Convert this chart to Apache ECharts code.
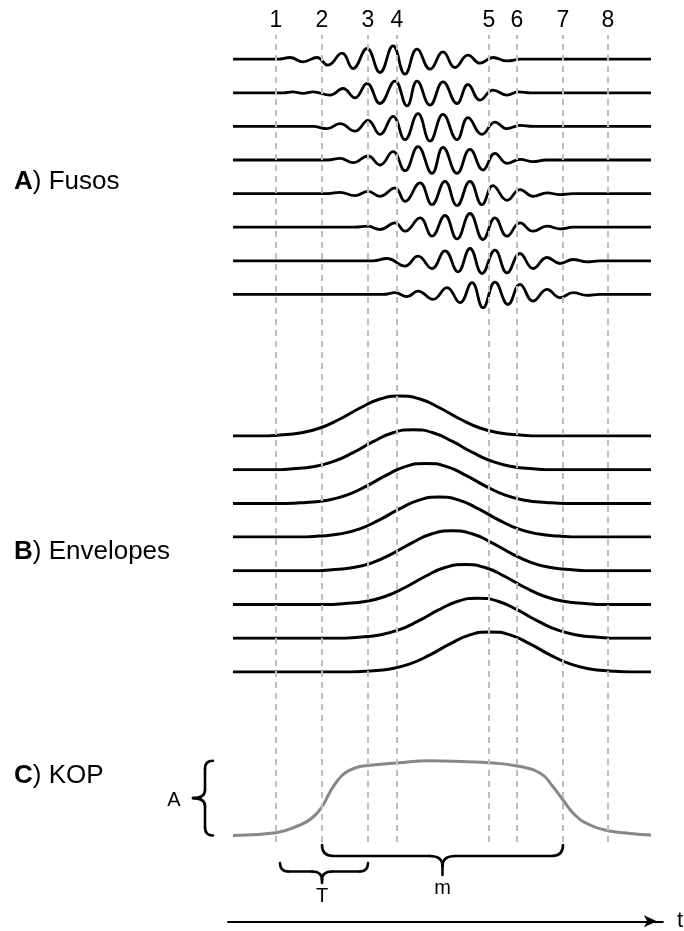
<!DOCTYPE html>
<html>
<head>
<meta charset="utf-8">
<script src="https://cdn.jsdelivr.net/npm/echarts@6/dist/echarts.min.js"></script>
<style>
  html, body { margin: 0; padding: 0; background: #fff; }
  #chart { width: 684px; height: 931px; }
</style>
</head>
<body>
<div id="chart"></div>
<script>
// ---- data -------------------------------------------------------------
// time span of every trace (arbitrary time units)
const timeEnd = 418;

// event markers drawn as dashed verticals
const markerLabels = ['1', '2', '3', '4', '5', '6', '7', '8'];
const markerTimes = [43, 89, 135, 164, 256, 284, 330, 375];

// spindle traces: [time, amplitude] at the turning points of each oscillation
const spindle1 = [[0,0],[45,0],[57,1.7],[70,-2.7],[84,1.7],[95,-6],[109,6],[120,-9.3],[134,10.7],[147,-13.3],[160,13.3],[172,-15],[184,10],[197,-10],[210,7.3],[222,-8.3],[235,4],[247,-4],[260,1.7],[274,-1.7],[288,0],[418,0]];
const spindle2 = [[0,0],[50,0],[60,1],[70,-0.5],[80,1],[97,-2.3],[110,4.3],[122,-5],[134,9.3],[147,-10.7],[162,11.7],[174,-13],[184,11.7],[197,-12.3],[210,11],[224,-10.7],[235,8.3],[247,-7.3],[260,2.7],[274,-2.3],[285,1],[298,0],[418,0]];
const spindle3 = [[0,0],[80,0],[94,-2.3],[107,2.7],[122,-4.7],[135,6],[147,-8],[160,10],[172,-13.3],[185,12.7],[197,-14.7],[210,12],[224,-13.3],[235,8.7],[249,-8],[262,4.3],[274,-2.3],[287,1],[300,0],[418,0]];
const spindle4 = [[0,0],[95,0],[107,1.7],[120,-2.7],[135,4],[147,-5],[160,8.3],[172,-10.7],[185,13.3],[199,-13.3],[210,12.7],[224,-13.3],[237,10.7],[250,-10],[262,6.7],[274,-3.3],[287,0.7],[300,-1.7],[313,0],[418,0]];
const spindle5 = [[0,0],[95,0],[107,1.3],[122,-2],[135,2.3],[147,-2.7],[162,5.7],[172,-7.7],[187,10.7],[199,-11],[212,12.3],[224,-12],[237,12.3],[249,-11],[260,8],[274,-6.7],[287,4],[300,-2.7],[314,0.7],[327,-1],[340,0],[418,0]];
const spindle6 = [[0,0],[122,0],[135,1],[147,-2.3],[162,4.3],[172,-4],[187,9.3],[199,-9],[212,11.7],[224,-11.7],[237,13.7],[250,-12.3],[262,9.3],[274,-9],[287,4.3],[300,-4],[314,1],[327,-1.7],[340,0],[418,0]];
const spindle7 = [[0,0],[140,0],[154,2.3],[172,-5.3],[185,4.7],[199,-7.7],[212,10],[225,-11],[237,12.3],[249,-12.7],[262,10.7],[274,-12],[287,7.3],[300,-7.7],[314,3.3],[327,-2.7],[340,1.3],[354,-1],[367,0],[418,0]];
const spindle8 = [[0,0],[150,0],[162,1.7],[174,-2.3],[185,3.3],[200,-5],[214,6.7],[227,-8.3],[239,11.7],[250,-13.3],[262,12.3],[275,-10],[287,10],[300,-6.7],[314,5],[327,-3.3],[340,1.7],[354,-1],[367,0],[418,0]];
const spindles = [spindle1, spindle2, spindle3, spindle4, spindle5, spindle6, spindle7, spindle8];

// envelope bump: [offset from peak time, height], and the peak time of each channel
const envelopeProfile = [[-140,0],[-120,1],[-100,3],[-80,8],[-60,17],[-40,28],[-20,37],[0,40],[20,37],[40,28],[60,17],[80,8],[100,3],[120,1],[140,0]];
const envelopePeaks = [167, 180, 193, 206, 219, 232, 245, 257];

// Kuramoto order parameter over time: [time, r]
const kop = [[0,0.095],[43,0.123],[67,0.20],[79,0.27],[89,0.383],[97,0.53],[105,0.65],[112,0.72],[122,0.77],[135,0.795],[164,0.82],[197,0.843],[234,0.833],[256,0.823],[284,0.79],[307,0.72],[320,0.583],[330,0.45],[342,0.30],[357,0.20],[375,0.143],[397,0.115],[418,0.10]];

// panel titles
const panelTitles = [
  { tag: 'A', text: 'Fusos' },
  { tag: 'B', text: 'Envelopes' },
  { tag: 'C', text: 'KOP' }
];

// ---- layout -----------------------------------------------------------
const FONT = '"Liberation Sans", Arial, Helvetica, sans-serif';
const plotLeft = 233, plotRight = 684 - 651;
const spindleTop = 59.2, spindleStep = 33.6, spindleHalf = 17;
const envBase = 436, envStep = 33.7, envHeight = 50;

const grids = [], xAxes = [], yAxes = [], series = [];

function addGrid(top, height, yMin, yMax) {
  const idx = grids.length;
  grids.push({ left: plotLeft, right: plotRight, top: top, height: height });
  xAxes.push({ gridIndex: idx, type: 'value', min: 0, max: timeEnd, show: false });
  yAxes.push({ gridIndex: idx, type: 'value', min: yMin, max: yMax, show: false });
  return idx;
}

// marker grid spanning all panels
const gMarkers = addGrid(35, 807, 0, 1);
series.push({
  type: 'line', xAxisIndex: gMarkers, yAxisIndex: gMarkers, data: [], z: 1,
  markLine: {
    silent: true, symbol: ['none', 'none'], animation: false,
    lineStyle: { type: [6, 5], color: '#bdbdbd', width: 2 },
    label: { show: true, position: 'end', distance: 3, formatter: p => p.name,
             fontSize: 23, fontFamily: FONT, color: '#000' },
    data: markerTimes.map((t, i) => ({ name: markerLabels[i], xAxis: t }))
  }
});

// spindles
spindles.forEach((trace, k) => {
  const base = spindleTop + spindleStep * k;
  const g = addGrid(base - spindleHalf, spindleHalf * 2, -spindleHalf, spindleHalf);
  series.push({
    type: 'line', xAxisIndex: g, yAxisIndex: g, data: trace, smooth: 0.45,
    symbol: 'none', z: 3, animation: false,
    lineStyle: { color: '#000', width: 2.8 }
  });
});

// envelopes
envelopePeaks.forEach((peak, k) => {
  const base = envBase + envStep * k;
  const g = addGrid(base - envHeight, envHeight, 0, envHeight);
  const data = [[0, 0]].concat(envelopeProfile.map(([o, h]) => [peak + o, h]), [[timeEnd, 0]]);
  series.push({
    type: 'line', xAxisIndex: g, yAxisIndex: g, data: data, smooth: 0.5,
    symbol: 'none', z: 3, animation: false,
    lineStyle: { color: '#000', width: 3 }
  });
});

// KOP
const gKop = addGrid(745, 100, 0, 1);
series.push({
  type: 'line', xAxisIndex: gKop, yAxisIndex: gKop, data: kop, smooth: 0.5,
  symbol: 'none', z: 3, animation: false,
  lineStyle: { color: '#878787', width: 3 }
});

// time arrow
const gTime = grids.length;
grids.push({ left: 228, right: 684 - 663, top: 921, height: 1 });
xAxes.push({
  gridIndex: gTime, type: 'value', min: 0, max: 1, position: 'bottom',
  axisLine: { show: true, symbol: ['none', 'arrow'], symbolSize: [9, 13], symbolOffset: [0, -6],
              lineStyle: { color: '#000', width: 2 } },
  axisTick: { show: false }, axisLabel: { show: false }, splitLine: { show: false },
  name: 't', nameLocation: 'end', nameGap: 14,
  nameTextStyle: { fontSize: 22, fontFamily: FONT, color: '#000' }
});
yAxes.push({ gridIndex: gTime, type: 'value', show: false });

const chart = echarts.init(document.getElementById('chart'), null, { renderer: 'canvas' });
chart.setOption({
  animation: false,
  backgroundColor: '#fff',
  grid: grids, xAxis: xAxes, yAxis: yAxes, series: series
});

// ---- annotations: panel titles and braces -----------------------------
const braceStyle = { fill: 'none', stroke: '#000', lineWidth: 2.6, lineCap: 'round' };
function seg(x1, y1, x2, y2) {
  return { type: 'line', shape: { x1, y1, x2, y2 }, style: braceStyle };
}
function quad(x1, y1, cx, cy, x2, y2) {
  return { type: 'bezierCurve', shape: { x1, y1, cpx1: cx, cpy1: cy, x2, y2 }, style: braceStyle };
}
// horizontal brace, ends pointing up, tip pointing down
function hBrace(x1, x2, xm, yEnd, yMid, yTip, r, rt, stub) {
  return [
    quad(x1, yEnd, x1, yMid, x1 + r, yMid),
    seg(x1 + r, yMid, xm - rt, yMid),
    quad(xm - rt, yMid, xm, yMid, xm, yTip),
    quad(xm + rt, yMid, xm, yMid, xm, yTip),
    seg(xm, yTip, xm, yTip + stub),
    seg(xm + rt, yMid, x2 - r, yMid),
    quad(x2 - r, yMid, x2, yMid, x2, yEnd)
  ];
}
// vertical brace, ends pointing right, tip pointing left
function vBrace(xSpine, xEnd, xTip, y1, y2, ym, r, rt) {
  return [
    quad(xEnd, y1, xSpine, y1, xSpine, y1 + r),
    seg(xSpine, y1 + r, xSpine, ym - rt),
    quad(xSpine, ym - rt, xSpine, ym, xTip, ym),
    quad(xSpine, ym + rt, xSpine, ym, xTip, ym),
    seg(xSpine, ym + rt, xSpine, y2 - r),
    quad(xSpine, y2 - r, xSpine, y2, xEnd, y2)
  ];
}

const px = t => chart.convertToPixel({ gridIndex: gKop }, [t, 0])[0];
const py = r => chart.convertToPixel({ gridIndex: gKop }, [0, r])[1];
const kopValues = kop.map(p => p[1]);
const kopTop = py(Math.max.apply(null, kopValues));
const kopBottom = py(Math.min.apply(null, kopValues));
const kopMid = (kopTop + kopBottom) / 2;

const tX1 = px(markerTimes[0]) + 4, tX2 = px(markerTimes[2]), tXm = px(markerTimes[1]);
const mX1 = px(markerTimes[1]), mX2 = px(markerTimes[6]), mXm = (mX1 + mX2) / 2;

const titleY = [182, 552, 776];
const graphics = panelTitles.map((p, i) => ({
  type: 'text', x: 14, y: titleY[i],
  style: {
    text: `{b|${p.tag}}{n|) ${p.text}}`, verticalAlign: 'middle',
    rich: {
      b: { fontSize: 26, fontFamily: FONT, fontWeight: 'bold', fill: '#000' },
      n: { fontSize: 26, fontFamily: FONT, fill: '#000' }
    }
  }
}));

function label(text, x, y) {
  return { type: 'text', x, y,
           style: { text, fontSize: 20, fontFamily: FONT, fill: '#000', align: 'center', verticalAlign: 'middle' } };
}

graphics.push(
  ...vBrace(205, 213, 193, kopTop, kopBottom, kopMid, 8, 8),
  label('A', 174, kopMid + 2),
  ...hBrace(tX1, tX2, tXm, 863, 871.5, 880, 8, 10, 3),
  label('T', tXm, 896),
  ...hBrace(mX1, mX2, mXm, 845, 856, 866, 11, 13, 9),
  label('m', mXm, 888)
);

chart.setOption({ graphic: graphics });
</script>
</body>
</html>
